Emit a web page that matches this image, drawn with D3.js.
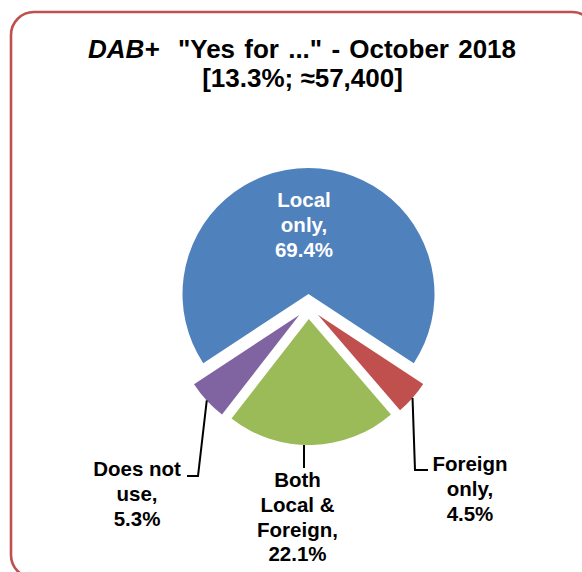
<!DOCTYPE html>
<html>
<head>
<meta charset="utf-8">
<script src="https://cdn.jsdelivr.net/npm/d3@7/dist/d3.min.js"></script>
<style>
  html, body { margin: 0; padding: 0; background: #fff; }
  svg { display: block; font-family: "Liberation Sans", Arial, sans-serif; }
  text { white-space: pre; }
</style>
</head>
<body>
<svg id="chart" width="582" height="572"></svg>
<script>
// Share of DAB+ users by type of content, October 2018
const categories = ["Local only", "Foreign only", "Both Local & Foreign", "Does not use"];
const labelLines = [
  ["Local", "only,"],
  ["Foreign", "only,"],
  ["Both", "Local &", "Foreign,"],
  ["Does not", "use,"]
];
const values = [69.4, 4.5, 22.1, 5.3];
const colors = ["#4F81BD", "#C0504D", "#9BBB59", "#8064A2"];
const titleLine1 = ["DAB+", "  \"Yes for ...\" - October 2018"];
const titleLine2 = "[13.3%; \u224857,400]";

const W = 582, H = 572;
const cx = 308.5, cy = 306.5;     // pie centre
const R = 126;                    // slice radius
const explode = 12.5;             // every slice is pulled out by this much

const svg = d3.select("#chart");

// rounded frame
svg.append("rect")
  .attr("x", 11).attr("y", 12)
  .attr("width", W + 2).attr("height", H - 6)
  .attr("rx", 23).attr("ry", 23)
  .attr("fill", "none")
  .attr("stroke", "#C0504D")
  .attr("stroke-width", 2.6);

// title
const titleSize = 26;
const t1 = svg.append("text")
  .attr("x", 302).attr("y", 58)
  .attr("text-anchor", "middle")
  .attr("font-size", titleSize).attr("font-weight", "bold").attr("fill", "#000");
t1.append("tspan").attr("font-style", "italic").text(titleLine1[0]);
t1.append("tspan").attr("word-spacing", 2).text(titleLine1[1]);
svg.append("text")
  .attr("x", 302.5).attr("y", 87)
  .attr("text-anchor", "middle")
  .attr("font-size", titleSize).attr("font-weight", "bold").attr("fill", "#000")
  .text(titleLine2);

// pie, with the first slice centred on the top
const total = d3.sum(values);
const a0 = -Math.PI * values[0] / total;
const pie = d3.pie().sort(null).startAngle(a0).endAngle(a0 + 2 * Math.PI);
const arcs = pie(values);
const arc = d3.arc().innerRadius(0).outerRadius(R);

const mid = d => (d.startAngle + d.endAngle) / 2;
const offset = (d, r) => [Math.sin(mid(d)) * r, -Math.cos(mid(d)) * r];

const g = svg.append("g").attr("transform", `translate(${cx},${cy})`);

g.selectAll("path.slice")
  .data(arcs)
  .join("path")
  .attr("class", "slice")
  .attr("fill", (d, i) => colors[i])
  .attr("transform", d => {
    const [dx, dy] = offset(d, explode);
    return `translate(${dx},${dy})`;
  })
  .attr("d", arc);

// label placement (relative to pie centre) and leader elbows
const labelLayout = [
  { x: -4.5, y: -99.5, fill: "#fff", leader: null },
  { x: 161.5, y: 164.5, fill: "#000", leader: { elbow: [106.5, 163.5], end: [119.5, 163.5] } },
  { x: -11, y: 180.5, fill: "#000", leader: { elbow: [-4.5, 161.5], end: null, fromX: -4.5 } },
  { x: -171.5, y: 169.5, fill: "#000", leader: { elbow: [-110.5, 169.5], end: [-121.5, 169.5] } }
];
const lineH = 24.8;
const fs = 20.5;

arcs.forEach((d, i) => {
  const L = labelLayout[i];
  const lines = labelLines[i].concat([d3.format(".1f")(values[i]) + "%"]);

  if (L.leader) {
    const [ex, ey] = offset(d, explode);
    const [ox, oy] = offset(d, R);
    const sx = L.leader.fromX !== undefined ? L.leader.fromX : ex + ox;
    const pts = [[sx, ey + oy], L.leader.elbow];
    if (L.leader.end) pts.push(L.leader.end);
    g.append("path")
      .attr("d", d3.line()(pts))
      .attr("fill", "none")
      .attr("stroke", "#000")
      .attr("stroke-width", 2);
  }

  const txt = g.append("text")
    .attr("text-anchor", "middle")
    .attr("font-size", fs)
    .attr("font-weight", "bold")
    .attr("fill", L.fill);
  lines.forEach((s, k) => {
    txt.append("tspan")
      .attr("x", L.x)
      .attr("y", L.y + k * lineH)
      .text(s);
  });
});
</script>
</body>
</html>
